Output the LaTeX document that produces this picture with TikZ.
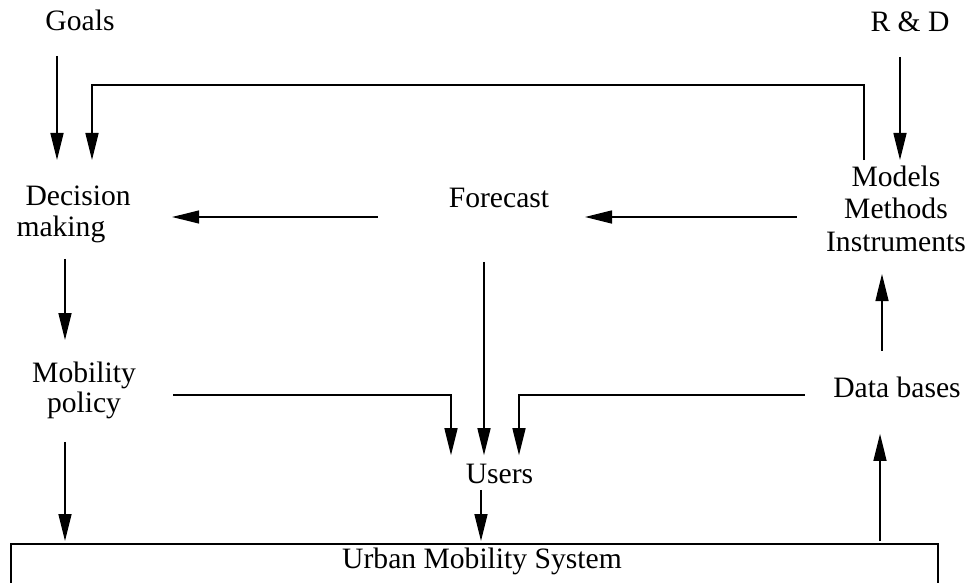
\documentclass[tikz,border=0pt]{standalone}
\usepackage{fontspec}
\setmainfont{Liberation Serif}
\usetikzlibrary{arrows.meta}
\begin{document}
\begin{tikzpicture}[x=1pt,y=-1pt,
  lbl/.style={inner sep=0pt, outer sep=0pt, font=\fontsize{29.6}{31}\selectfont},
  arr/.style={line width=1.4pt, -{Triangle[length=27pt,width=13pt]}}]
\useasboundingbox (0,0) rectangle (969,583);
\clip (0,0) rectangle (969,583);
% nodes
\node[lbl, anchor=base] (goals) at (80,31) {Goals};
\node[lbl, anchor=base] (rd) at (910,32) {R \& D};
\node[lbl, anchor=north west, align=left] (dec) at (16.5,185.8) {\hspace*{9pt}Decision\\making};
\node[lbl, anchor=base] (fc) at (499,207) {Forecast};
\node[lbl, anchor=north, align=center, font=\fontsize{29.6}{32.5}\selectfont] (mmi) at (896,165.8) {Models\\Methods\\Instruments};
\node[lbl, anchor=north, align=center, font=\fontsize{29.6}{30}\selectfont] (mob) at (84,361.8) {Mobility\\policy};
\node[lbl, anchor=base] (db) at (897,397) {Data bases};
\node[lbl, anchor=base] (users) at (499.5,483) {Users};
\node[draw, line width=1.4pt, anchor=north west, outer sep=0pt, inner sep=0pt,
      minimum width=927pt, minimum height=70pt] (ums) at (11,544) {};
\node[lbl, anchor=base] (umst) at (482,568) {Urban Mobility System};
% connectors
\draw[arr, shorten <=24.5pt, shorten >=25.8pt] (goals.south -| 57,0) -- (dec.north -| 57,0);
\draw[arr, shorten <=5.8pt, shorten >=25.8pt] (mmi.north -| 864,0) -- (864,85) -| (dec.north -| 92,0);
\draw[arr, shorten <=24.6pt, shorten >=5.8pt] (rd.south -| 900,0) -- (mmi.north -| 900,0);
\draw[arr, shorten <=70.9pt, shorten >=41.4pt] (fc.west |- 0,217) -- (dec.east |- 0,217);
\draw[arr, shorten <=29.5pt, shorten >=35.9pt] (mmi.west |- 0,217) -- (fc.east |- 0,217);
\draw[arr, shorten <=16.2pt, shorten >=21.8pt] (dec.south -| 65,0) -- (mob.north -| 65,0);
\draw[arr, shorten <=37.3pt, shorten >=8.4pt] (mob.east |- 0,395) -| (users.north -| 451,0);
\draw[arr, shorten <=54.7pt, shorten >=8.4pt] (fc.south -| 484,0) -- (users.north -| 484,0);
\draw[arr, shorten <=28.8pt, shorten >=8.4pt] (db.west |- 0,395) -| (users.north -| 519,0);
\draw[arr, shorten <=23.2pt, shorten >=3pt] (mob.south -| 65,0) -- (ums.north -| 65,0);
\draw[arr, shorten <=6.7pt, shorten >=3pt] (users.south -| 481,0) -- (ums.north -| 481,0);
\draw[arr, shorten <=3pt, shorten >=57.4pt] (ums.north -| 880,0) -- (db.north -| 880,0);
\draw[arr, shorten <=25.6pt, shorten >=22.4pt] (db.north -| 882,0) -- (mmi.south -| 882,0);
\end{tikzpicture}
\end{document}
